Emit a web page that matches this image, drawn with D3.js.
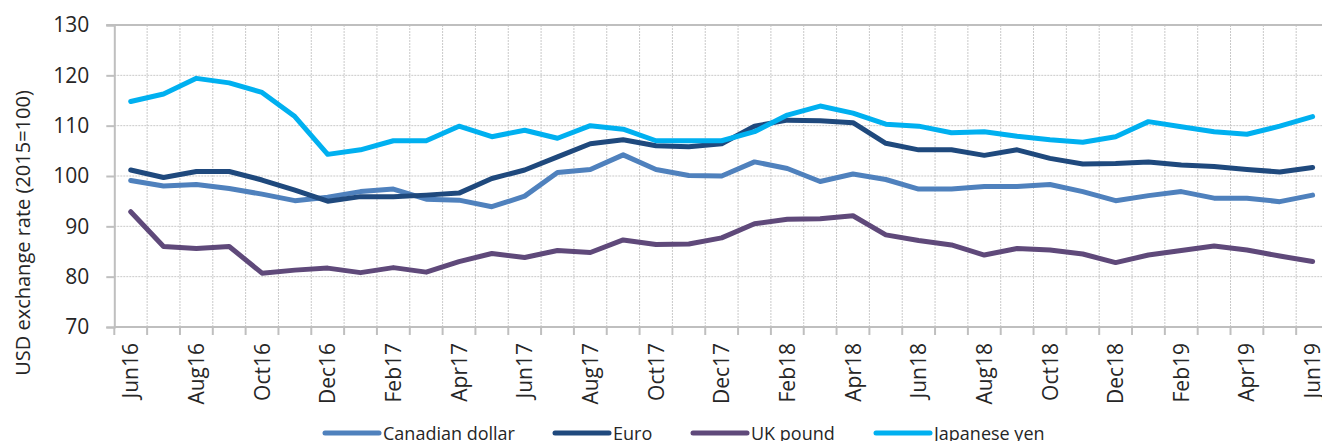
<!DOCTYPE html>
<html>
<head>
<meta charset="utf-8">
<script src="https://cdn.jsdelivr.net/npm/d3@7"></script>
<style>
  html, body { margin: 0; padding: 0; background: #fff; overflow: hidden; }
  svg { display: block; font-family: "Open Sans", sans-serif; }
</style>
</head>
<body>
<svg id="chart" width="1322" height="441"></svg>
<script>
const months = ["Jun16","Jul16","Aug16","Sep16","Oct16","Nov16","Dec16","Jan17","Feb17","Mar17","Apr17","May17",
  "Jun17","Jul17","Aug17","Sep17","Oct17","Nov17","Dec17","Jan18","Feb18","Mar18","Apr18","May18",
  "Jun18","Jul18","Aug18","Sep18","Oct18","Nov18","Dec18","Jan19","Feb19","Mar19","Apr19","May19","Jun19"];
const tickLabels = ["Jun16","Aug16","Oct16","Dec16","Feb17","Apr17","Jun17","Aug17","Oct17","Dec17",
  "Feb18","Apr18","Jun18","Aug18","Oct18","Dec18","Feb19","Apr19","Jun19"];
const yTicks = [70, 80, 90, 100, 110, 120, 130];

const canadianDollar = [99.1,98.0,98.3,97.5,96.4,95.1,95.8,96.9,97.4,95.4,95.2,93.9,
  96.0,100.7,101.3,104.2,101.3,100.1,100.0,102.8,101.5,98.9,100.4,99.3,
  97.4,97.4,97.9,97.9,98.3,96.9,95.1,96.1,96.9,95.6,95.6,94.9,96.2];
const euro = [101.2,99.7,100.9,100.9,99.2,97.2,95.0,95.9,95.9,96.2,96.6,99.5,
  101.2,103.8,106.4,107.2,106.0,105.8,106.4,109.9,111.1,111.0,110.6,106.5,
  105.2,105.2,104.1,105.2,103.5,102.4,102.5,102.8,102.2,101.9,101.3,100.8,101.7];
const ukPound = [92.9,86.0,85.6,86.0,80.7,81.3,81.7,80.8,81.8,80.9,83.0,84.6,
  83.8,85.2,84.8,87.3,86.4,86.5,87.7,90.5,91.4,91.5,92.1,88.3,
  87.2,86.3,84.3,85.6,85.3,84.5,82.8,84.3,85.2,86.1,85.3,84.1,83.0];
const japaneseYen = [114.8,116.3,119.4,118.5,116.6,111.8,104.3,105.2,107.0,107.0,109.9,107.8,
  109.1,107.5,110.0,109.3,107.0,107.0,107.0,108.8,112.1,113.9,112.5,110.3,
  109.9,108.6,108.8,107.9,107.2,106.7,107.8,110.8,109.8,108.8,108.3,109.9,111.8];

const seriesNames = ["Canadian dollar","Euro","UK pound","Japanese yen"];
const seriesColors = ["#4F81BD","#1F497D","#5F497A","#00B0F0"];
const seriesData = [canadianDollar, euro, ukPound, japaneseYen];

const svg = d3.select("#chart");
const plotLeft = 114.3, plotTop = 25, plotBottom = 327;
const step = 32.83;
const plotRight = plotLeft + step * months.length;

const x = d3.scaleBand().domain(months).range([plotLeft, plotRight]).padding(0);
const y = d3.scaleLinear().domain([70, 130]).range([plotBottom, plotTop]);

const gridColor = "#c9c9c9";
const axisColor = "#bfbfbf";

// horizontal gridlines
svg.append("g").selectAll("line").data(yTicks.filter(t => t > 70 && t < 130)).join("line")
  .attr("x1", plotLeft).attr("x2", plotRight)
  .attr("y1", d => y(d)).attr("y2", d => y(d))
  .attr("stroke", gridColor).attr("stroke-width", 1).attr("stroke-dasharray", "2,1");

// vertical gridlines at category boundaries
const boundaries = months.slice(1).map(m => x(m)).concat([plotRight]);
svg.append("g").selectAll("line").data(boundaries).join("line")
  .attr("x1", d => d).attr("x2", d => d)
  .attr("y1", plotTop).attr("y2", plotBottom)
  .attr("stroke", gridColor).attr("stroke-width", 1).attr("stroke-dasharray", "2,1");

// top border line
svg.append("line").attr("x1", plotLeft - 8).attr("x2", plotRight).attr("y1", y(130)).attr("y2", y(130))
  .attr("stroke", axisColor).attr("stroke-width", 2);

// y axis
const yAxis = d3.axisLeft(y).tickValues(yTicks).tickSize(8).tickPadding(17);
const gy = svg.append("g").attr("transform", `translate(${plotLeft},0)`).call(yAxis);
gy.select(".domain").attr("stroke", axisColor).attr("stroke-width", 2);
gy.selectAll(".tick line").attr("stroke", axisColor).attr("stroke-width", 2);
gy.selectAll(".tick text").attr("font-size", "21px").attr("fill", "#262626")
  .attr("font-family", "'Open Sans', sans-serif");

// x axis
const xAxis = d3.axisBottom(x).tickValues(tickLabels).tickSize(0).tickFormat(d => d);
const gx = svg.append("g").attr("transform", `translate(0,${plotBottom})`).call(xAxis);
gx.select(".domain").remove();
gx.selectAll(".tick text")
  .attr("font-size", "21px").attr("fill", "#262626").attr("font-family", "'Open Sans', sans-serif")
  .attr("transform", "rotate(-90)")
  .attr("text-anchor", "end")
  .attr("x", -16).attr("y", 0).attr("dy", "0.36em");
// tick marks at boundaries
svg.append("g").selectAll("line").data([plotLeft].concat(boundaries)).join("line")
  .attr("x1", d => d).attr("x2", d => d)
  .attr("y1", plotBottom).attr("y2", plotBottom + 8)
  .attr("stroke", axisColor).attr("stroke-width", 2);
svg.append("line").attr("x1", plotLeft).attr("x2", plotRight).attr("y1", plotBottom).attr("y2", plotBottom)
  .attr("stroke", axisColor).attr("stroke-width", 2);

// y title
svg.append("text")
  .attr("transform", `translate(30,${(86 + 380) / 2}) rotate(-90)`)
  .attr("text-anchor", "middle")
  .attr("font-size", "20px").attr("fill", "#262626")
  .text("USD exchange rate (2015=100)");

// lines
const line = d3.line()
  .x((d, i) => x(months[i]) + x.bandwidth() / 2)
  .y(d => y(d));
svg.append("g").selectAll("path").data(seriesData).join("path")
  .attr("d", d => line(d))
  .attr("fill", "none")
  .attr("stroke", (d, i) => seriesColors[i])
  .attr("stroke-width", 5)
  .attr("stroke-linejoin", "round")
  .attr("stroke-linecap", "round");

// legend
const legendX = [325, 555, 693, 876];
const lg = svg.append("g").selectAll("g").data(seriesNames).join("g")
  .attr("transform", (d, i) => `translate(${legendX[i]},433)`);
lg.append("line").attr("x1", 0).attr("x2", 54).attr("y1", 0).attr("y2", 0)
  .attr("stroke", (d, i) => seriesColors[i]).attr("stroke-width", 5).attr("stroke-linecap", "round");
lg.append("text").attr("x", 58).attr("y", 7)
  .attr("font-size", "18px").attr("fill", "#262626").text(d => d);
</script>
</body>
</html>
